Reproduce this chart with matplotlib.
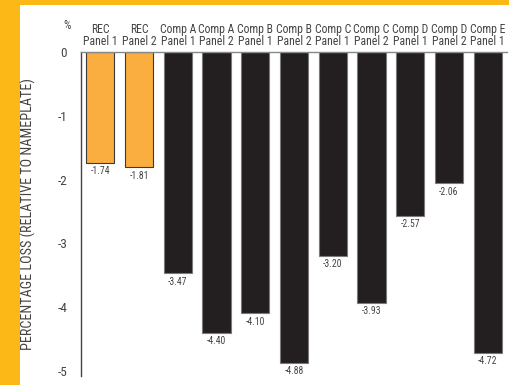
import matplotlib.pyplot as plt

categories = ["REC\nPanel 1", "REC\nPanel 2", "Comp A\nPanel 1", "Comp A\nPanel 2",
              "Comp B\nPanel 1", "Comp B\nPanel 2", "Comp C\nPanel 1", "Comp C\nPanel 2",
              "Comp D\nPanel 1", "Comp D\nPanel 2", "Comp E\nPanel 1"]
losses = [-1.74, -1.81, -3.47, -4.40, -4.10, -4.88, -3.20, -3.93, -2.57, -2.06, -4.72]
is_rec = [True, True, False, False, False, False, False, False, False, False, False]
y_ticks = [0, -1, -2, -3, -4, -5]

yellow = "#FBB817"
orange = "#F9AE3F"
dark = "#231F20"
grey_text = "#444444"

plt.rcParams['font.family'] = ['Roboto Condensed', 'Roboto', 'DejaVu Sans']

fig = plt.figure(figsize=(5.1, 3.85), dpi=100)
fig.patch.set_facecolor(yellow)
# white panel
fig.add_artist(plt.Rectangle((20 / 510, 0), 1, 1 - 5 / 385, transform=fig.transFigure,
                             facecolor="white", edgecolor="none", zorder=0))

ax = fig.add_axes([81 / 510, 1 - 376 / 385, (507 - 81) / 510, (376 - 52) / 385])
ax.set_facecolor("none")

x = list(range(len(categories)))
colors = [orange if r else dark for r in is_rec]
edges = ["#3a3a3a" if r else "#7a7a7a" for r in is_rec]
ax.bar(x, losses, width=0.73, color=colors, edgecolor=edges, linewidth=0.8, zorder=2)

for xi, v in zip(x, losses):
    ax.text(xi, v - 0.05, f"{v:.2f}", ha="center", va="top", fontsize=7,
            color=grey_text)

for xi, c in zip(x, categories):
    ax.text(xi, 0.06, c, ha="center", va="bottom", fontsize=8.5, color=grey_text,
            linespacing=0.9)
ax.text(-0.85, 0.32, "%", ha="center", va="bottom", fontsize=8.5, color=grey_text)

ax.set_xlim(-0.5, 10.5)
ax.set_ylim(-5.08, 0)
ax.set_xticks([])
ax.set_yticks(y_ticks)
ax.set_yticklabels([str(t) for t in y_ticks], fontsize=9.5, color=grey_text)
ax.tick_params(axis="y", length=0, pad=10)

for s in ["right", "bottom"]:
    ax.spines[s].set_visible(False)
ax.spines["left"].set_color("#444444")
ax.spines["top"].set_color("#888888")
ax.spines["left"].set_linewidth(1)
ax.spines["top"].set_linewidth(1)

ax.set_ylabel("PERCENTAGE LOSS (RELATIVE TO NAMEPLATE)", fontsize=10.2, color=grey_text)
ax.yaxis.set_label_coords(-0.105, 0.5)

fig.savefig("out.png", dpi=100, facecolor=fig.get_facecolor())
